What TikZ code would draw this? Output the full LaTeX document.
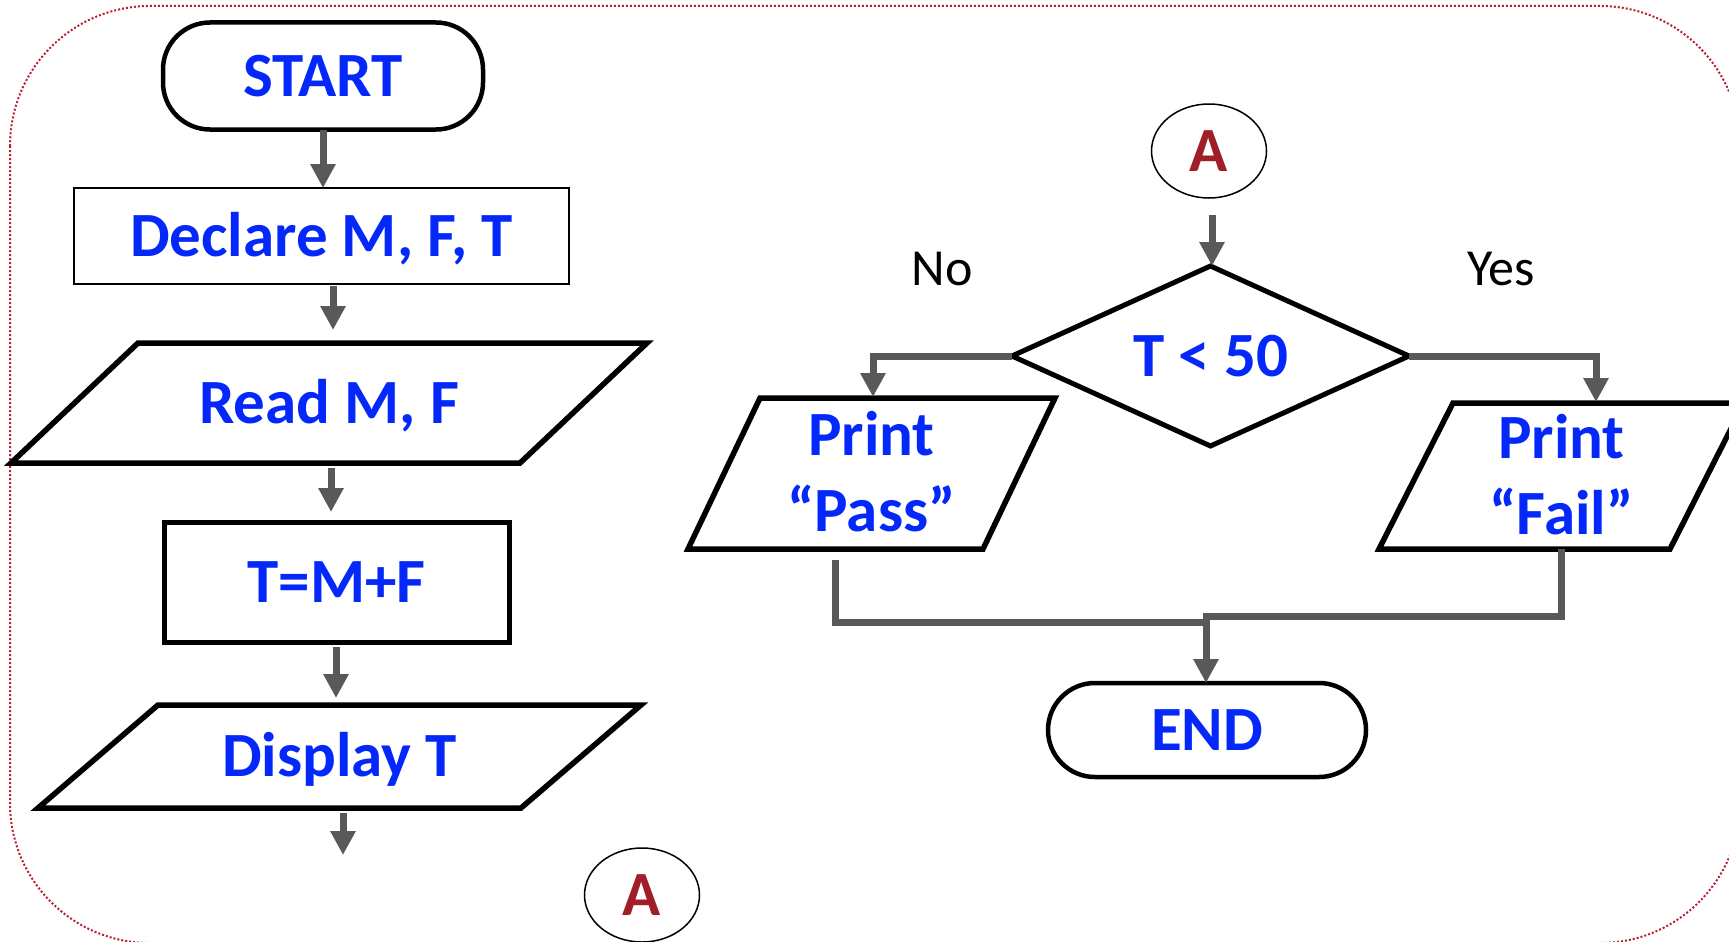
\documentclass[tikz,border=0pt]{standalone}
\usepackage{fontspec}
\setmainfont{Carlito}
\usetikzlibrary{arrows.meta,shapes.geometric,calc}
\definecolor{fcblue}{RGB}{5,40,250}
\definecolor{fcred}{RGB}{160,30,40}
\definecolor{fcgray}{RGB}{89,89,89}
\definecolor{fcborder}{RGB}{190,30,50}
\newcommand\paraout[2]{\draw[line width=5.5pt, line join=miter] ([xshift=#2]#1.north west) -- (#1.north east) -- ([xshift=-#2]#1.south east) -- (#1.south west) -- cycle;}
\begin{document}
\begin{tikzpicture}[x=1pt,y=-1pt,
  btext/.style={font=\fontsize{63}{76}\selectfont\bfseries, text=fcblue, text height=40pt, text depth=0pt, inner sep=0pt, outer sep=0pt, align=center},
  term/.style={btext, draw, line width=4.5pt, rounded corners=47pt},
  procbox/.style={btext, draw, line width=#1},
  iobox/.style={btext},
  twoline/.style={text height=116pt},
  decbox/.style={btext, diamond, aspect=2.2, draw, line width=5pt},
  conbox/.style={ellipse, draw, line width=1.5pt, inner sep=0pt, outer sep=0pt, minimum width=115pt, minimum height=94pt, font=\fontsize{63}{76}\selectfont\bfseries, text=fcred, text height=40pt, text depth=0pt},
  lbl/.style={font=\fontsize{52}{60}\selectfont, text=black, inner sep=0pt},
  conn/.style={draw=fcgray, line width=7pt},
  arr/.style={conn, -{Triangle[width=24pt,length=24pt]}}
]
\useasboundingbox (0,0) rectangle (1729,942);
\clip (0,0) rectangle (1729,942);
\fill[white] (0,0) rectangle (1729,942);
\draw[fcborder, line width=2pt, dash pattern=on 2pt off 2pt, rounded corners=140pt] (10,6) rectangle (1740,943);

% left column
\node[term, minimum width=320pt, minimum height=107pt] (start) at (323,76) {START};
\node[procbox=2pt, minimum width=495pt, minimum height=96pt] (declare) at (321.5,236) {Declare M, F, T};
\node[iobox, minimum width=636pt, minimum height=120pt] (read) at (329,403) {Read M, F};
\paraout{read}{127pt}
\node[procbox=5pt, minimum width=345pt, minimum height=120pt] (tmf) at (336.5,582) {T=M+F};
\node[iobox, minimum width=603pt, minimum height=103pt] (display) at (339.5,756.5) {Display T};
\paraout{display}{120pt}
\coordinate (out) at (343,855);
\node[conbox] (abot) at (642,895) {A};

\draw[arr] (start.south) -- (start.south |- declare.north);
\draw[arr] ($(declare.south)+(11.5,2)$) -- ($(read.north)+(4,-13)$);
\draw[arr] ($(read.south)+(2,5)$) -- ($(tmf.north)+(-5.5,-10)$);
\draw[arr] ($(tmf.south)+(-0.5,5)$) -- ($(display.north)+(-3.5,-7)$);
\draw[arr] ($(display.south)+(3.5,5)$) -- (out);

% right part
\node[conbox] (atop) at (1209,151) {A};
\node[decbox, minimum width=397pt, minimum height=180pt] (dia) at (1210.5,356) {T < 50};
\node[lbl, anchor=base] (no) at (942,285) {No};
\node[lbl, anchor=base] (yes) at (1501,285) {Yes};
\node[iobox, twoline, minimum width=367pt, minimum height=151pt] (pass) at (871.5,473.5) {Print\\“Pass”};
\paraout{pass}{72pt}
\node[iobox, twoline, minimum width=365pt, minimum height=146pt] (fail) at (1561.5,476) {Print\\“Fail”};
\paraout{fail}{74pt}
\node[term, minimum width=318pt, minimum height=94pt] (end) at (1207,730) {END};

\draw[arr] ($(atop.south)+(3,17)$) -- ($(dia.north)+(1.5,0)$);
\draw[arr] (dia.west) -| ($(pass.north)+(1.5,-1)$);
\draw[arr] (dia.east) -| ($(fail.north)+(34.5,-1)$);
\draw[conn] ($(pass.south)+(-36.5,11)$) |- ($(end.north)+(-1,-61)$);
\draw[arr] (fail.south) |- ($(end.north)+(-1,-67)$) -- ($(end.north)+(-1,0)$);
\end{tikzpicture}
\end{document}
